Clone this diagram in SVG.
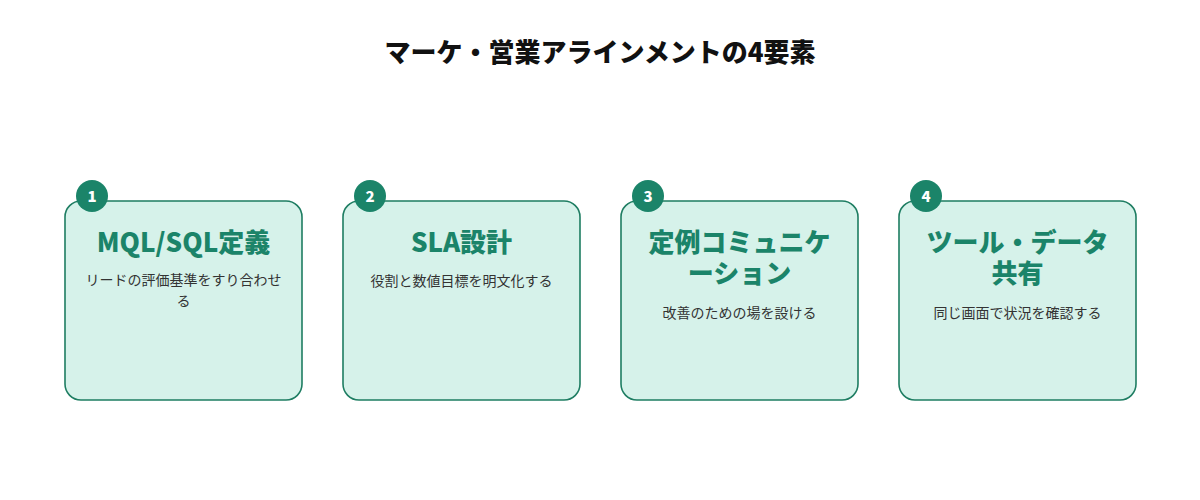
<svg xmlns="http://www.w3.org/2000/svg" width="1200" height="500" viewBox="0 0 1200 500">
<style>
.bg{fill:#ffffff}
.title{font-family:"Noto Sans CJK JP","Noto Sans",sans-serif;font-size:26px;font-weight:900;fill:#111111;text-anchor:middle}
.card{fill:#d6f2ea;stroke:#1e7d62;stroke-width:1.6}
.badge{fill:#1b8469}
.num{font-family:"Noto Sans CJK JP","Noto Sans",sans-serif;font-size:15px;font-weight:900;fill:#ffffff;text-anchor:middle}
.ct{font-family:"Noto Sans CJK JP","Noto Sans",sans-serif;font-size:26px;font-weight:900;fill:#1b8469;text-anchor:middle}
.cd{font-family:"Noto Sans CJK JP","Noto Sans",sans-serif;font-size:14px;fill:#333333;text-anchor:middle}
</style>
<rect class="bg" width="1200" height="500"/>
<text class="title" x="600" y="62">マーケ・営業アラインメントの4要素</text>
<g id="connectors"></g>
<g id="node1">
<rect class="card" x="65" y="201" width="237" height="199" rx="16"/>
<circle class="badge" cx="92" cy="196" r="16"/>
<text class="num" x="92" y="201.5">1</text>
<text class="ct" x="183.5" y="252">MQL/SQL定義</text>
<text class="cd" x="183.5" y="285">リードの評価基準をすり合わせ</text>
<text class="cd" x="183.5" y="306">る</text>
</g>
<g id="node2">
<rect class="card" x="343" y="201" width="237" height="199" rx="16"/>
<circle class="badge" cx="370" cy="196" r="16"/>
<text class="num" x="370" y="201.5">2</text>
<text class="ct" x="461.5" y="252">SLA設計</text>
<text class="cd" x="461.5" y="286">役割と数値目標を明文化する</text>
</g>
<g id="node3">
<rect class="card" x="621" y="201" width="237" height="199" rx="16"/>
<circle class="badge" cx="648" cy="196" r="16"/>
<text class="num" x="648" y="201.5">3</text>
<text class="ct" x="739.5" y="252">定例コミュニケ</text>
<text class="ct" x="739.5" y="283">ーション</text>
<text class="cd" x="739.5" y="318">改善のための場を設ける</text>
</g>
<g id="node4">
<rect class="card" x="899" y="201" width="237" height="199" rx="16"/>
<circle class="badge" cx="926" cy="196" r="16"/>
<text class="num" x="926" y="201.5">4</text>
<text class="ct" x="1017.5" y="252">ツール・データ</text>
<text class="ct" x="1017.5" y="283">共有</text>
<text class="cd" x="1017.5" y="318">同じ画面で状況を確認する</text>
</g>
</svg>
